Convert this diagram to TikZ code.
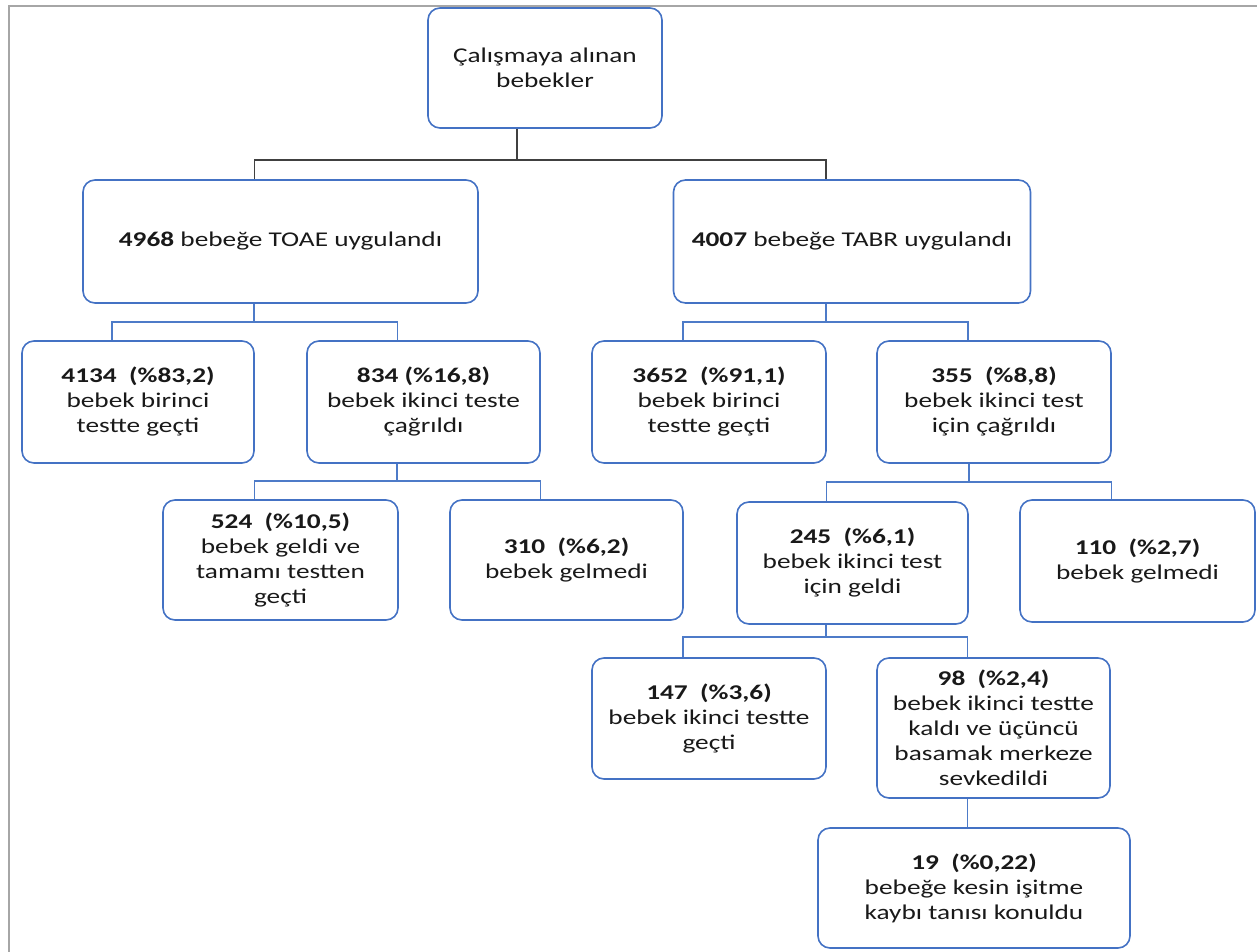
\documentclass[tikz,border=0pt]{standalone}
\usepackage{fontspec}
\setmainfont{Carlito}[FakeStretch=1.3]
\usetikzlibrary{positioning}
\definecolor{boxblue}{HTML}{4472C4}
\definecolor{linkblue}{HTML}{4D7BC8}
\definecolor{framegray}{HTML}{A6A6A6}

\begin{document}
\begin{tikzpicture}[x=1pt, y=-1pt,
  box/.style={draw=boxblue, line width=1.6pt, rounded corners=12pt,
    align=center, inner sep=4pt, text=black!90,
    font=\fontsize{21}{25}\selectfont},
  boxsize/.style 2 args={minimum width=#1pt, minimum height=#2pt},
  link/.style={draw=linkblue, line width=1.8pt},
  toplink/.style={draw=black!75, line width=1.8pt}
]
\useasboundingbox (0,0) rectangle (1257,952);

% page frame
\draw[framegray, line width=2pt] (9,952) |- (1257,6);

% top levels
\node[box, boxsize={234}{120}] (root) at (545,68)
  {Çalışmaya alınan\\bebekler};
\node[box, boxsize={395}{123}] (toae) at (280.5,241.5)
  {\textbf{4968} bebeğe TOAE uygulandı};
\node[box, boxsize={357}{123}] (tabr) at (852,241.5)
  {\textbf{4007} bebeğe TABR uygulandı};

% first test
\node[box, boxsize={232}{122}] (pass1a) at (138,402)
  {\textbf{4134\ \ (\%83,2)}\\bebek birinci\\testte geçti};
\node[box, boxsize={233}{122}] (call2a) at (423.5,402)
  {\textbf{834 (\%16,8)}\\bebek ikinci teste\\çağrıldı};
\node[box, boxsize={234}{122}] (pass1b) at (709,402)
  {\textbf{3652\ \ (\%91,1)}\\bebek birinci\\testte geçti};
\node[box, boxsize={234}{122}] (call2b) at (994,402)
  {\textbf{355\ \ (\%8,8)}\\bebek ikinci test\\için çağrıldı};

% second test
\node[box, boxsize={235}{120}] (came2a) at (280.5,560)
  {\textbf{524\ \ (\%10,5)}\\bebek geldi ve\\tamamı testten\\geçti};
\node[box, boxsize={233}{120}] (miss2a) at (566.5,560)
  {\textbf{310\ \ (\%6,2)}\\bebek gelmedi};
\node[box, boxsize={231}{122}] (came2b) at (852.5,563)
  {\textbf{245\ \ (\%6,1)}\\bebek ikinci test\\için geldi};
\node[box, boxsize={235}{122}] (miss2b) at (1137.5,561)
  {\textbf{110\ \ (\%2,7)}\\bebek gelmedi};

% results
\node[box, boxsize={234}{121}] (pass2b) at (709,718.5)
  {\textbf{147\ \ (\%3,6)}\\bebek ikinci testte\\geçti};
\node[box, boxsize={233}{140}] (fail2b) at (993.5,728)
  {\textbf{98\ \ (\%2,4)}\\bebek ikinci testte\\kaldı ve üçüncü\\basamak merkeze\\sevkedildi};
\node[box, boxsize={312}{120}] (diag) at (974,888)
  {\textbf{19\ \ (\%0,22)}\\bebeğe kesin işitme\\kaybı tanısı konuldu};

% connectors
\coordinate (j0) at (517,160);
\draw[toplink] (root.south -| j0) -- (j0);
\draw[toplink] ([xshift=-26pt]toae.north) |- (j0) -| ([xshift=-26pt]tabr.north);

\coordinate (j1) at (254,322);
\draw[link] (toae.south -| j1) -- (j1);
\draw[link] ([xshift=-26pt]pass1a.north) |- (j1) -| ([xshift=-26pt]call2a.north);

\coordinate (j2) at (826,322);
\draw[link] (tabr.south -| j2) -- (j2);
\draw[link] ([xshift=-26pt]pass1b.north) |- (j2) -| ([xshift=-26pt]call2b.north);

\coordinate (j3) at (397,481);
\draw[link] (call2a.south -| j3) -- (j3);
\draw[link] ([xshift=-26pt]came2a.north) |- (j3) -| ([xshift=-26pt]miss2a.north);

\coordinate (j4) at (969,482);
\draw[link] (call2b.south -| j4) -- (j4);
\draw[link] ([xshift=-26pt]came2b.north) |- (j4) -| ([xshift=-26pt]miss2b.north);

\coordinate (j5) at (826,637);
\draw[link] (came2b.south -| j5) -- (j5);
\draw[link] ([xshift=-26pt]pass2b.north) |- (j5) -| ([xshift=-26pt]fail2b.north);

\draw[link] ([xshift=-26pt]fail2b.south) -- ([xshift=-26pt]fail2b.south |- diag.north);

\end{tikzpicture}
\end{document}
